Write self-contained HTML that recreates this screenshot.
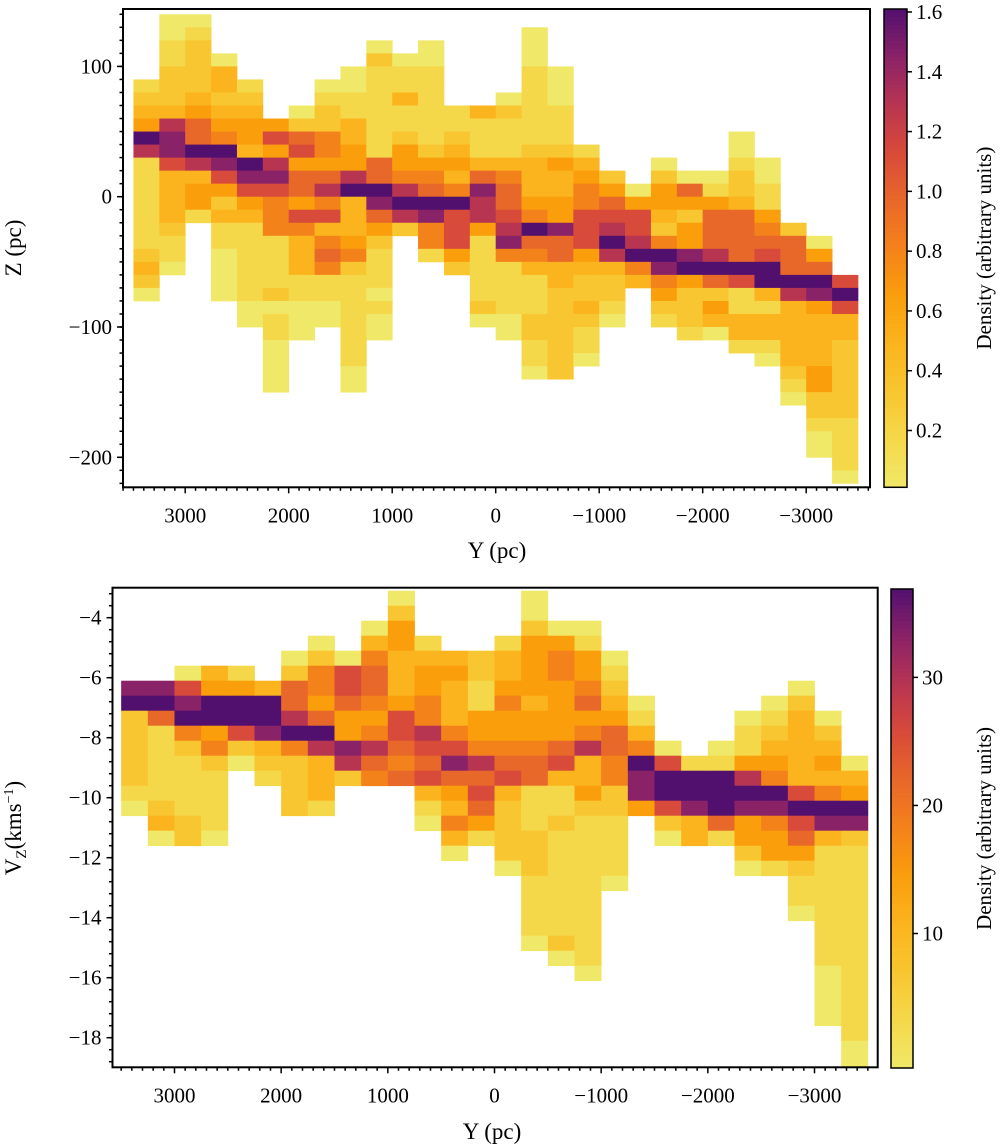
<!DOCTYPE html>
<html><head><meta charset="utf-8">
<style>
html,body{margin:0;padding:0;background:#fff;}
svg{display:block;font-family:"Liberation Serif",serif;}
</style></head>
<body>
<svg id="fig" width="1000" height="1146" viewBox="0 0 1000 1146" xmlns="http://www.w3.org/2000/svg">
<g id="top"></g>
<g id="bot"></g>
<text x="497" y="558" font-size="23" text-anchor="middle">Y (pc)</text>
<text x="0" y="0" font-size="23" text-anchor="middle" transform="translate(21,248) rotate(-90)">Z (pc)</text>
<text x="492" y="1139" font-size="23" text-anchor="middle">Y (pc)</text>
<text x="0" y="0" font-size="23" text-anchor="middle" transform="translate(21,828) rotate(-90)">V<tspan font-size="15" dy="5">Z</tspan><tspan dy="-5">(kms</tspan><tspan font-size="14" dy="-8">−1</tspan><tspan dy="8">)</tspan></text>
</svg>
<script>
const topYBinEdges0 = 3500, topYBinStep = -250;
const topZBinEdge0 = 140, topZBinStep = -10;
const topColStart = [5,0,0,3,5,8,7,5,4,2,3,2,7,7,6,1,4,10,12,13,11,12,12,9,11,16,17,20];
const topColLevels = [
"1234A811111112320","00112223899733332110","0122223466A83441","0332345A97423110000",
"123443A974311111100","474897555111120110000","026746647533311000","0122554685735651100",
"001133448A333452111111100","02111111166A96421110100","01131124458A82","001111112456A9551",
"1123435A77742","31113698841111120","0211135667895111100","000111111233345A65311122110",
"000111243344966332222222","13455777432232110","24678A832210","04778A53",
"0244325A95421","0642449A42221","0146668A62430","0012236666A711331",
"00114567AA313310","2666A833333210","046A9433334422100","7A73322222211110"];
const topMax = 1.6;
const topXTicks = [3000,2000,1000,0,-1000,-2000,-3000];
const topYTicks = [100,0,-100,-200];
const topCbTicks = [0.2,0.4,0.6,0.8,1.0,1.2,1.4,1.6];

const botYBinEdges0 = 3500, botYBinStep = -250;
const botVBinEdge0 = -3.1, botVBinStep = -0.5;
const botColStart = [6,6,5,5,5,6,4,3,4,2,0,3,4,4,3,0,2,2,4,7,10,11,10,8,7,6,8,11];
const botColLevels = [
"9A2222210","9A611111230","079A52111122","34AA45211110","14AA720","3AA9321",
"02668A52222","025546A83331","077644982","03566545865","0244333477656","1344558767310",
"34333579643530","2211445867641","1334544567322220","002444434456611122211110",
"04554444673112111111120","014456458334211111111110","0123466552211110","0135A994",
"07AA720","1AA933","01AAA61","01148A94420","012345A95441","02333337A7642110",
"023435A93111111110000","034A92111111111111100"];
const botMax = 36;
const botXTicks = [3000,2000,1000,0,-1000,-2000,-3000];
const botYTicks = [-4,-6,-8,-10,-12,-14,-16,-18];
const botCbTicks = [10,20,30];

const cmapStops = ["#f0e868","#f5d84a","#f8c630","#fbb41e","#fa9e0c","#f4821a","#e8682a","#d84a3a","#b83552","#8a2268","#52106e"];
function hex2rgb(h){return [1,3,5].map(i=>parseInt(h.substr(i,2),16));}
function cmap(f){
  f=Math.max(0,Math.min(1,f));const p=f*10,i=Math.min(9,Math.floor(p)),t=p-i;
  const a=hex2rgb(cmapStops[i]),b=hex2rgb(cmapStops[i+1]);
  return "rgb("+a.map((v,k)=>Math.round(v+(b[k]-v)*t)).join(",")+")";
}
const NS="http://www.w3.org/2000/svg";
function el(tag,attrs,parent){const e=document.createElementNS(NS,tag);for(const k in attrs)e.setAttribute(k,attrs[k]);parent.appendChild(e);return e;}
function fmt(v){return v<0?"\u2212"+Math.abs(v):String(v);}

function panel(g,cfg){
  const {box,xs,ys,colStart,colLevels,maxV,xEdge0,xStep,yEdge0,yStep,xTicks,yTicks,cb,cbTicks,cbMin,cbMax,cbFmt} = cfg;
  const cells=el("g",{},g);
  
  
  colLevels.forEach((str,c)=>{
    const x0=xs(xEdge0+xStep*c), x1=xs(xEdge0+xStep*(c+1));
    for(let j=0;j<str.length;j++){
      const r=colStart[c]+j;
      const lev=parseInt(str[j],16);
      const val=lev/10*maxV;
      const y0=ys(yEdge0+yStep*r), y1=ys(yEdge0+yStep*(r+1));
      const top=Math.max(box.y0,Math.min(y0,y1)), bot=Math.min(box.y1,Math.max(y0,y1));
      const rc=el("rect",{x:Math.min(x0,x1),y:top,width:Math.abs(x1-x0)+0.4,height:bot-top+0.4,fill:cmap(val/maxV)},cells);
      
      
    }
  });
  const fr=el("rect",{x:box.x0,y:box.y0,width:box.x1-box.x0,height:box.y1-box.y0,fill:"none",stroke:"#000","stroke-width":2},g);
  
  
  const xt=el("g",{},g);
  
  
  for(let v=3600; v>=-3600; v-=100){
    const x=xs(v); if(x<box.x0||x>box.x1) continue;
    const major=(v%1000===0);
    el("line",{x1:x,x2:x,y1:box.y1,y2:box.y1+(major?6:3.5),stroke:"#000","stroke-width":1.5},xt);
  }
  xTicks.forEach(v=>{
    const t=el("text",{x:xs(v),y:box.y1+35,"font-size":21,"text-anchor":"middle"},xt);
    t.textContent=fmt(v);
    
    
  });
  const yt=el("g",{},g);
  
  
  cfg.yMinor.forEach(v=>{
    const y=ys(v); if(y<box.y0||y>box.y1) return;
    el("line",{x1:box.x0,x2:box.x0-3.5,y1:y,y2:y,stroke:"#000","stroke-width":1.5},yt);
  });
  yTicks.forEach(v=>{
    const y=ys(v);
    el("line",{x1:box.x0,x2:box.x0-6,y1:y,y2:y,stroke:"#000","stroke-width":1.5},yt);
    const t=el("text",{x:box.x0-11,y:y+7,"font-size":21,"text-anchor":"end"},yt);
    t.textContent=fmt(v);
    
    
  });
  const cg=el("g",{},g);
  
  
  const N=120;
  for(let i=0;i<N;i++){
    const y=cb.y0+(cb.y1-cb.y0)*i/N;
    el("rect",{x:cb.x0,y:y,width:cb.x1-cb.x0,height:(cb.y1-cb.y0)/N+0.6,fill:cmap(1-(i+0.5)/N)},cg);
  }
  el("rect",{x:cb.x0,y:cb.y0,width:cb.x1-cb.x0,height:cb.y1-cb.y0,fill:"none",stroke:"#000","stroke-width":1.5},cg);
  const cby=v=>cb.y1-(v-cbMin)/(cbMax-cbMin)*(cb.y1-cb.y0);
  cbTicks.forEach(v=>{
    const y=cby(v);
    el("line",{x1:cb.x1,x2:cb.x1+5,y1:y,y2:y,stroke:"#000","stroke-width":1.5},cg);
    const t=el("text",{x:cb.x1+9,y:y+7,"font-size":21},cg);
    t.textContent=cbFmt(v);
    
    
  });
  const cl=el("text",{x:0,y:0,"font-size":21,"text-anchor":"middle",transform:`translate(${cfg.cbLabX},${(cb.y0+cb.y1)/2}) rotate(-90)`},cg);
  cl.textContent="Density (arbitrary units)";
  
  
}

const topBox={x0:123,x1:870,y0:9,y1:487.3};
const topXs=Y=>495.7-0.1035*Y;
const topYs=Z=>196.7-1.303*Z;
const topZMinor=[];for(let z=140;z>=-220;z-=10)topZMinor.push(z);
panel(document.getElementById("top"),{
  box:topBox,xs:topXs,ys:topYs,colStart:topColStart,colLevels:topColLevels,maxV:topMax,
  xEdge0:topYBinEdges0,xStep:topYBinStep,yEdge0:topZBinEdge0,yStep:topZBinStep,
  xTicks:topXTicks,yTicks:topYTicks,yMinor:topZMinor,
  cb:{x0:884,x1:907,y0:9,y1:487.3},cbTicks:topCbTicks,cbMin:0.01,cbMax:1.61,cbFmt:v=>v.toFixed(1),cbLabX:991
});
const botBox={x0:112.5,x1:877.7,y0:587.7,y1:1067.3};
const botXs=Y=>494.5-0.10667*Y;
const botYs=V=>587.7+(-3-V)*30;
const botVMinor=[];for(let v=-3.2;v>=-19;v-=0.4)botVMinor.push(v);
panel(document.getElementById("bot"),{
  box:botBox,xs:botXs,ys:botYs,colStart:botColStart,colLevels:botColLevels,maxV:botMax,
  xEdge0:botYBinEdges0,xStep:botYBinStep,yEdge0:botVBinEdge0,yStep:botVBinStep,
  xTicks:botXTicks,yTicks:botYTicks,yMinor:botVMinor,
  cb:{x0:891,x1:913,y0:589,y1:1068},cbTicks:botCbTicks,cbMin:-0.5,cbMax:36.9,cbFmt:v=>String(v),cbLabX:991
});
</script>
</body></html>
